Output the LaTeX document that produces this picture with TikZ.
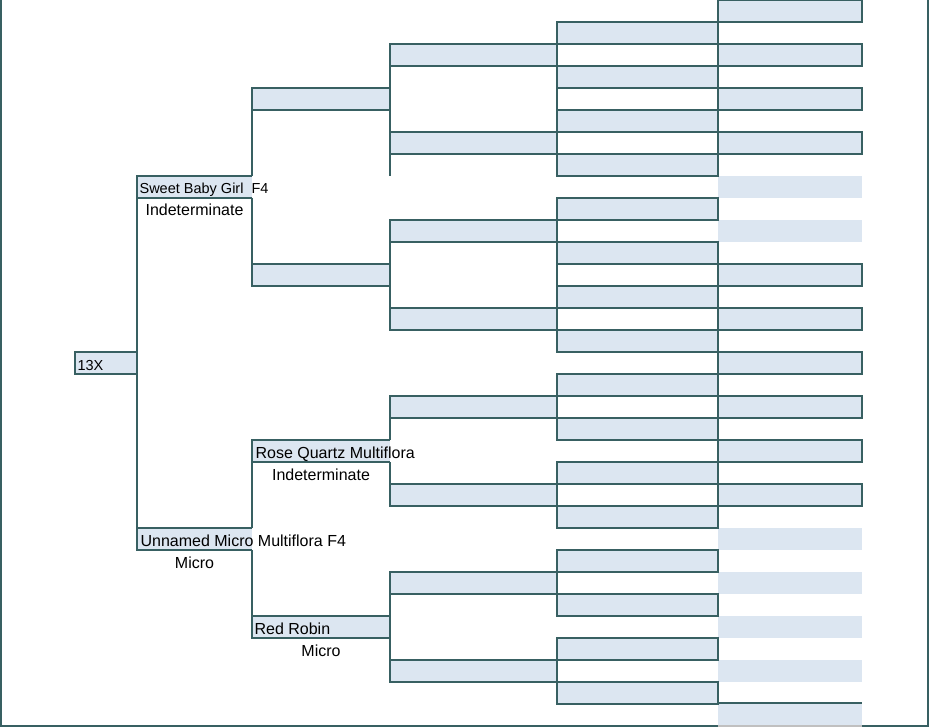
\documentclass[tikz,border=0pt]{standalone}
\usepackage{fontspec}
\setmainfont{Liberation Sans}
\usetikzlibrary{positioning}
\definecolor{edgeteal}{RGB}{56,96,98}
\definecolor{cellblue}{RGB}{220,230,241}
\definecolor{rulegray}{RGB}{192,192,192}
\tikzset{
    cell/.style={rectangle, draw=edgeteal, fill=cellblue, line width=1.1pt, minimum height=22pt, inner sep=0pt, outer sep=0pt, anchor=north west},
    bare/.style={cell, draw=none},
    edgeline/.style={draw=edgeteal, line width=1.1pt},
    ptext/.style={inner sep=0pt, anchor=base west, font=\fontsize{16}{18}\selectfont},
    pnote/.style={inner sep=0pt, anchor=base, font=\fontsize{16}{18}\selectfont}
}
\begin{document}
\begin{tikzpicture}[x=1pt, y=-1pt]
    \useasboundingbox (0,0) rectangle (929,727);
    \draw [draw=edgeteal, line width=2pt] (1,0) -- (1,725.5) -- (928.2,725.5) -- (928.2,0);

    % great-great-grandparents and great-grandparents
    \foreach \r in {0,2,4,6,12,14,16,18,20,22}
        \node (g5-\r) [cell, minimum width=144pt] at (718,22*\r) {};
    \foreach \r in {8,10,24,26,28,30,32}
        \node (g5-\r) [bare, minimum width=144pt] at (718,22*\r) {};
    \foreach \i in {1,...,16}
        \node (g4-\i) [cell, minimum width=161pt] at (557,44*\i-22) {};
    \foreach \i in {1,...,8}
        \node (g3-\i) [cell, minimum width=167pt] at (390,88*\i-44) {};

    \node (gpa) [cell, minimum width=138pt] at (252,88) {};
    \node (gpb) [cell, minimum width=138pt] at (252,264) {};
    \node (rqm) [bare, minimum width=138pt] at (252,440) {};
    \node (rrb) [cell, minimum width=138pt] at (252,616) {};
    \node (sbg) [bare, minimum width=115pt] at (137,176) {};
    \node (umm) [bare, minimum width=115pt] at (137,528) {};
    \node (root) [cell, minimum width=62pt] at (75,352) {};

    \draw [edgeline] (rqm.north east) -- (rqm.north west) -- (rqm.south west) -- (rqm.south east);
    \draw [edgeline] (sbg.north east) -- (sbg.north west) -- (sbg.south west) -- (sbg.south east);
    \draw [edgeline] (umm.north east) -- (umm.north west) -- (umm.south west) -- (umm.south east);

    \draw [edgeline] (sbg.south west) -- (umm.north west);
    \draw [edgeline] (gpa.south west) -- (sbg.north east);
    \draw [edgeline] (sbg.south east) -- (gpb.north west);
    \draw [edgeline] (rqm.south west) -- (umm.north east);
    \draw [edgeline] (umm.south east) -- (rrb.north west);
    \draw [edgeline] (g3-1.south west) -- (g3-2.north west);
    \draw [edgeline] (g3-2.south west) -- (g3-2.west |- sbg.north);
    \draw [edgeline] (g3-3.south west) -- (g3-4.north west);
    \draw [edgeline] (g3-5.south west) -- (rqm.north east);
    \draw [edgeline] (rqm.south east) -- (g3-6.north west);
    \draw [edgeline] (g3-7.south west) -- (g3-8.north west);
    \draw [edgeline] (g4-2.south west) -- (g4-3.north west);
    \draw [edgeline] (g4-6.south west) -- (g4-7.north west);

    \draw [rulegray, line width=2pt] ([yshift=0.5pt]g5-32.south west) -- ([yshift=0.5pt]g5-32.south east);
    \draw [edgeteal, line width=2pt] ([yshift=1pt]g5-32.north west) -- ([yshift=1pt]g5-32.north east);

    \node (rootname) [ptext, font=\fontsize{14.5}{17}\selectfont] at ([xshift=2.4pt, yshift=4pt]root.south west) {13X};
    \node (sbgname) [ptext, font=\fontsize{14.5}{17}\selectfont] at ([xshift=2.4pt, yshift=4pt]sbg.south west) {Sweet Baby Girl~ F4};
    \node (sbgnote) [pnote] at ([yshift=-18pt]sbg.south) {Indeterminate};
    \node (ummname) [ptext] at ([xshift=3.4pt, yshift=4pt]umm.south west) {Unnamed Micro Multiflora F4};
    \node (ummnote) [pnote] at ([yshift=-18pt]umm.south) {Micro};
    \node (rqmname) [ptext] at ([xshift=3.4pt, yshift=4pt]rqm.south west) {Rose Quartz Multiflora};
    \node (rqmnote) [pnote] at ([yshift=-18pt]rqm.south) {Indeterminate};
    \node (rrbname) [ptext] at ([xshift=2.4pt, yshift=4pt]rrb.south west) {Red Robin};
    \node (rrbnote) [pnote] at ([yshift=-18pt]rrb.south) {Micro};
\end{tikzpicture}
\end{document}
